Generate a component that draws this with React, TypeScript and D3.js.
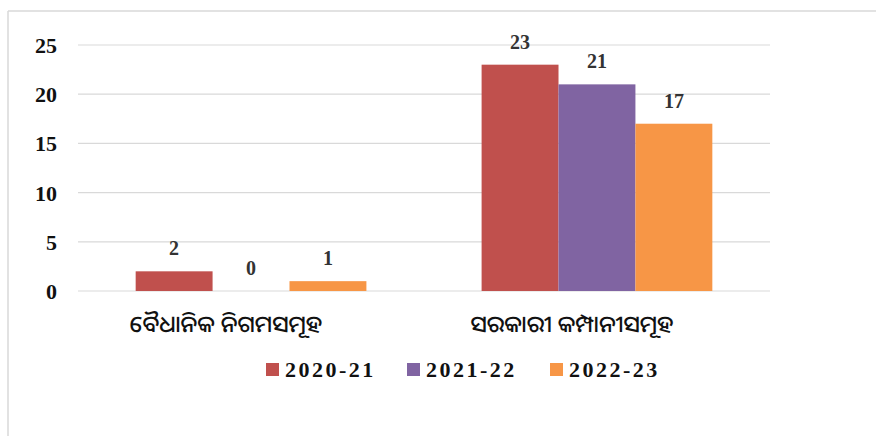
import React from "react";
import * as d3 from "d3";

const categories = ["ବୈଧାନିକ ନିଗମସମୂହ", "ସରକାରୀ କମ୍ପାନୀସମୂହ"];
const seriesNames = ["2020-21", "2021-22", "2022-23"];
const seriesValues = [
  [2, 23],
  [0, 21],
  [1, 17],
];
const yTicks = [0, 5, 10, 15, 20, 25];
const colors = ["#c0504d", "#8064a2", "#f79646"];

const width = 876,
  height = 436;

export default function App() {
  // plot area
  const left = 78,
    right = 770,
    top = 45,
    bottom = 291;

  const x0 = d3
    .scaleBand<string>()
    .domain(categories)
    .range([left, right])
    .paddingInner(0.333)
    .paddingOuter(0.1667);

  const x1 = d3
    .scaleBand<string>()
    .domain(seriesNames)
    .range([0, x0.bandwidth()]);

  const y = d3.scaleLinear().domain([0, 25]).range([bottom, top]);

  const serif = "'Liberation Serif', 'Times New Roman', serif";

  const legendX = [266, 407, 550];

  return (
    <svg
      width={width}
      height={height}
      style={{ position: "absolute", left: 0, top: 0, background: "#fff" }}
    >
      {/* frame */}
      <line x1={8} y1={11} x2={8} y2={height} stroke="#d9d9d9" strokeWidth={1.5} />
      <line x1={8} y1={11} x2={width} y2={11} stroke="#d9d9d9" strokeWidth={1.5} />

      {/* gridlines + ticks */}
      {yTicks.map((t) => (
        <g key={t}>
          <line x1={left} x2={right} y1={y(t)} y2={y(t)} stroke="#d9d9d9" strokeWidth={1.2} />
          <text
            x={57}
            y={y(t) + 8}
            textAnchor="end"
            fontFamily={serif}
            fontWeight="bold"
            fontSize={22}
            fill="#111"
          >
            {t}
          </text>
        </g>
      ))}

      {/* bars */}
      {seriesNames.map((s, si) =>
        categories.map((c, ci) => {
          const v = seriesValues[si][ci];
          const bx = (x0(c) as number) + (x1(s) as number);
          return (
            <g key={s + c}>
              <rect
                x={bx}
                y={y(v)}
                width={x1.bandwidth()}
                height={bottom - y(v)}
                fill={colors[si]}
              />
              <text
                x={bx + x1.bandwidth() / 2}
                y={y(v) - 16}
                textAnchor="middle"
                fontFamily={serif}
                fontWeight="bold"
                fontSize={20}
                fill="#333"
              >
                {v}
              </text>
            </g>
          );
        })
      )}

      {/* category labels */}
      {categories.map((c) => (
        <text
          key={c}
          x={(x0(c) as number) + x0.bandwidth() / 2 - 25}
          y={332}
          textAnchor="middle"
          fontFamily="'Noto Sans Oriya', 'Noto Sans', sans-serif"
          fontSize={23}
          fontWeight={500}
          fill="#111"
        >
          {c}
        </text>
      ))}

      {/* legend */}
      {seriesNames.map((s, i) => (
        <g key={s}>
          <rect x={legendX[i]} y={363} width={13} height={13} fill={colors[i]} />
          <text
            x={legendX[i] + 19}
            y={377}
            fontFamily={serif}
            fontWeight="bold"
            fontSize={22}
            letterSpacing={2.5}
            fill="#111"
          >
            {s}
          </text>
        </g>
      ))}
    </svg>
  );
}
